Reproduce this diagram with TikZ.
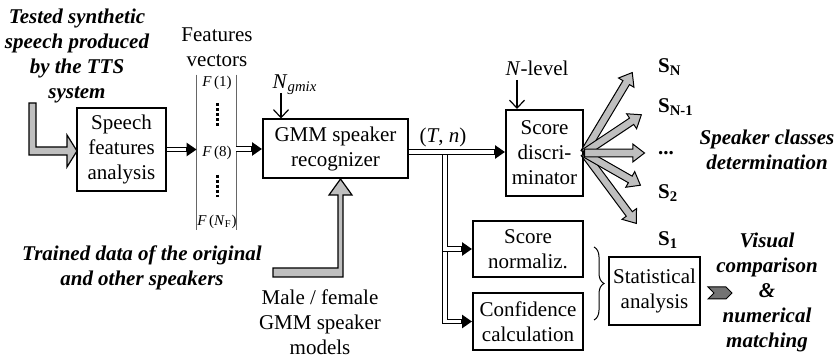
\documentclass[tikz,border=0pt]{standalone}
\usepackage{fontspec}
\setmainfont{Liberation Serif}
\usetikzlibrary{arrows.meta,calc,shapes.arrows,decorations.pathreplacing}

% gray block arrow from a node anchor to a tip coordinate
\newcommand{\fanout}[2]{%
  \path let \p1=($(#2)-(#1)$), \n1={atan2(\y1,\x1)}, \n2={veclen(\x1,\y1)} in
    node[fanarrow, minimum height=\n2, rotate=\n1, anchor=tail] at (#1) {};}
% double line with a solid tip
\newcommand{\dbl}[1]{\draw[dblouter] #1; \draw[dblinner] #1;}

\begin{document}
\begin{tikzpicture}[x=0.5pt, y=-0.5pt,
  every node/.style={font=\fontsize{10.5}{12.5}\selectfont},
  block/.style={draw, line width=1pt, align=center, inner sep=0pt},
  note/.style={align=center, font=\fontsize{10.5}{12.5}\selectfont\bfseries\itshape},
  vec/.style={font=\fontsize{7.5}{9}\selectfont},
  dblouter/.style={line width=2.8pt, -{Triangle[length=5pt,width=6.5pt]}},
  dblinner/.style={white, line width=1.6pt, shorten >=5.5pt},
  pointer/.style={line width=0.6pt, -{Straight Barb[length=4pt,width=7.5pt]}},
  bigarrow/.style={draw, line width=0.6pt, fill=black!25},
  fanarrow/.style={single arrow, draw, fill=black!25, line width=0.5pt, inner sep=0pt,
    text height=3.3pt, text depth=0pt, text width=0pt, minimum width=0pt,
    single arrow head extend=2.6pt, single arrow tip angle=75},
  dots/.style={line width=1.5pt, dash pattern=on 1.5pt off 1pt}]

\useasboundingbox (0,0) rectangle (839,357);

% Input side
\node[note] (tested) at (77,56) {Tested synthetic\\speech produced\\by the TTS\\system};
\node[block, minimum width=44.5pt, minimum height=41.5pt] (speech) at (121.5,149.5) {Speech\\features\\analysis};
\draw[bigarrow] (29,103) -- (36,103) -- (36,147) -- (67,147) -- (67,135) -- (77,151) -- (67,167) -- (67,155) -- (29,155) -- cycle;

% Features vectors
\node[align=center] (fvtitle) at (217,47) {Features\\vectors};
\node[minimum width=19.5pt, minimum height=77.5pt, inner sep=0pt] (fvec) at (216.5,152.5) {};
\draw[black!60, line width=0.5pt] (fvec.north west) -- (fvec.south west) (fvec.north east) -- (fvec.south east);
\node[vec] (f1) at (217,83) {\textit{F}\,(1)};
\node[vec] (f8) at (217,153) {\textit{F}\,(8)};
\node[vec] (fn) at (217,222) {\textit{F}\,(\textit{N}\textsubscript{F})};
\draw[dots] (217,103) -- (217,127);
\draw[dots] (217,175) -- (217,197);

% GMM recognizer
\node[block, minimum width=72.5pt, minimum height=29.5pt] (gmm) at (335.5,149) {GMM speaker\\recognizer};
\node (ngmix) at (295,85) {\textit{N}\textsubscript{\textit{gmix}}};
\coordinate (ngtop) at (281,93);
\draw[pointer] (ngtop) -- (ngtop |- gmm.north);
\node[note] (trained) at (142,268) {Trained data of the original\\and other speakers};
\node[align=center] (models) at (320,322) {Male / female\\GMM speaker\\models};
\draw[bigarrow] (273,268) -- (338,268) -- (338,195) -- (329,195) -- (340.5,179) -- (352,195) -- (343,195) -- (343,277) -- (273,277) -- cycle;

% Score discriminator
\node[block, minimum width=38.5pt, minimum height=43pt] (disc) at (544.5,153) {Score\\discri-\\minator};
\node (nlevel) at (537,68) {\textit{N}-level};
\coordinate (nltop) at (517,80);
\draw[pointer] (nltop) -- (nltop |- disc.north);

% Normalization and confidence
\node[block, minimum width=55pt, minimum height=28pt] (norm) at (528,249) {Score\\normaliz.};
\node[block, minimum width=55pt, minimum height=28.5pt] (conf) at (528,321.5) {Confidence\\calculation};
\node[block, minimum width=45.5pt, minimum height=34pt] (stat) at (654.5,291) {Statistical\\analysis};

\node (tn) at (443,137) {(\textit{T}, \textit{n})};
\coordinate (split) at (445,152);

% Connectors
\dbl{(speech.east) -- (speech.east -| fvec.west)}
\dbl{(fvec.east |- gmm.west) -- (gmm.west)}
\dbl{(split) |- (conf.west)}
\dbl{(split) |- (norm.west)}
\dbl{(gmm.east |- split) -- (disc.west |- split)}

\draw[decorate, decoration={brace, amplitude=5pt}, line width=0.5pt] (594,247) -- (594,320);
\draw[fill=black!55, line width=0.5pt] (708,287) -- (726,287) -- (732,293) -- (726,299) -- (708,299) -- (714,293) -- cycle;

% Speaker classes
\coordinate (tipN) at (632,73);
\coordinate (tipN1) at (641,115);
\coordinate (tipdots) at (644,153);
\coordinate (tip2) at (640,185);
\coordinate (tip1) at (636,223);
\fanout{disc.east}{tip1}
\fanout{disc.east}{tip2}
\fanout{disc.east}{tipN}
\fanout{disc.east}{tipN1}
\fanout{disc.east}{tipdots}

\node[anchor=west] (sN) at (651,67) {\textbf{S\textsubscript{N}}};
\node[anchor=west] (sN1) at (651,107) {\textbf{S\textsubscript{N-1}}};
\node[anchor=west] (sdots) at (651,153) {\textbf{...}};
\node[anchor=west] (s2) at (651,193) {\textbf{S\textsubscript{2}}};
\node[anchor=west] (s1) at (651,240) {\textbf{S\textsubscript{1}}};

\node[note] (classes) at (767,150) {Speaker classes\\determination};
\node[note] (visual) at (767,292) {Visual\\comparison\\\&\\numerical\\matching};
\end{tikzpicture}
\end{document}
